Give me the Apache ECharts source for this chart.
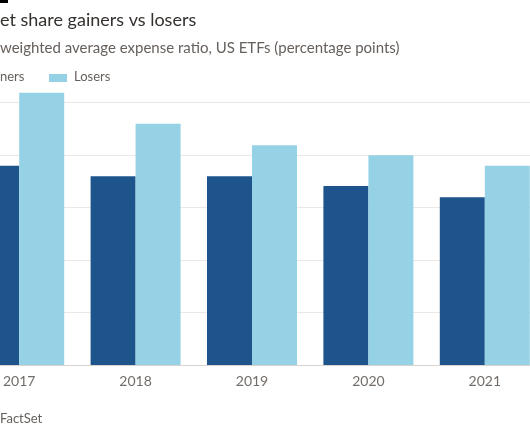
<!DOCTYPE html>
<html>
<head>
<meta charset="utf-8">
<script src="https://cdn.jsdelivr.net/npm/echarts@6/dist/echarts.min.js"></script>
<style>html,body{margin:0;padding:0;background:#fff;}#c{width:530px;height:442px;}</style>
</head>
<body>
<div id="c"></div>
<script>
const categories = ['2017', '2018', '2019', '2020', '2021'];
const gainers = [0.380, 0.360, 0.360, 0.341, 0.320];
const losers = [0.519, 0.460, 0.419, 0.400, 0.380];
const yTicks = [0, 0.1, 0.2, 0.3, 0.4, 0.5];

const FONT = 'Lato';
const chart = echarts.init(document.getElementById('c'), null, {renderer: 'canvas'});
chart.setOption({
  animation: false,
  backgroundColor: '#fff',
  textStyle: {fontFamily: FONT},
  grid: {left: -39, right: -13, top: 102.7, bottom: 77, containLabel: false, outerBoundsMode: 'none'},
  xAxis: {
    type: 'category',
    data: categories,
    axisLine: {lineStyle: {color: '#d9d3cd', width: 1}},
    axisTick: {alignWithLabel: true, length: 5, lineStyle: {color: '#d9d3cd'}},
    axisLabel: {color: '#736d69', fontSize: 14, margin: 9, fontFamily: FONT}
  },
  yAxis: {
    type: 'value',
    min: yTicks[0],
    max: yTicks[yTicks.length - 1],
    interval: 0.1,
    axisLabel: {show: false},
    axisLine: {show: false},
    axisTick: {show: false},
    splitLine: {lineStyle: {color: '#ebe7e3', width: 1}}
  },
  series: [
    {name: 'Gainers', type: 'bar', data: gainers, barWidth: 45, barGap: '0%', clip: false,
     itemStyle: {color: '#1d548b'}},
    {name: 'Losers', type: 'bar', data: losers, barWidth: 45, barGap: '0%', clip: false,
     itemStyle: {color: '#96d2e6'}}
  ],
  graphic: [
    {type: 'rect', shape: {x: 0, y: 0, width: 8, height: 3}, style: {fill: '#000'}},
    {type: 'text', left: 0, top: 11, style: {text: 'et share gainers vs losers', fill: '#33302e', font: '18px "' + FONT + '"'}},
    {type: 'text', left: 0, top: 41, style: {text: 'weighted average expense ratio, US ETFs (percentage points)', fill: '#66605c', font: '15px "' + FONT + '"'}},
    {type: 'text', left: 0, top: 70, style: {text: 'ners', fill: '#66605c', font: '13px "' + FONT + '"'}},
    {type: 'rect', shape: {x: 49, y: 74, width: 18, height: 8}, style: {fill: '#96d2e6'}},
    {type: 'text', left: 74, top: 70, style: {text: 'Losers', fill: '#66605c', font: '13px "' + FONT + '"'}},
    {type: 'text', left: 0, top: 412, style: {text: 'FactSet', fill: '#66605c', font: '13px "' + FONT + '"'}}
  ]
});
</script>
</body>
</html>
